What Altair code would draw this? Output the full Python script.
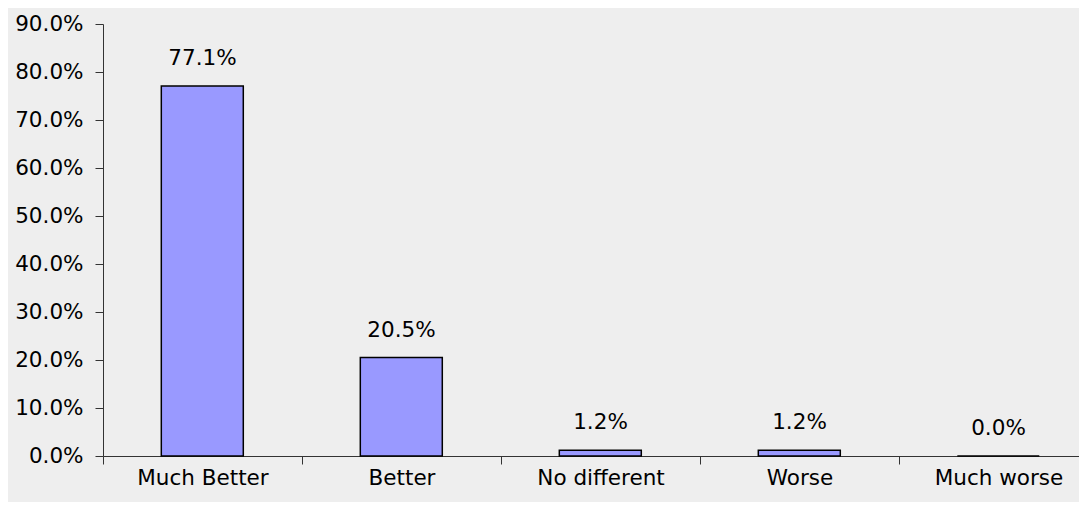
import altair as alt
import pandas as pd

categories = ["Much Better", "Better", "No different", "Worse", "Much worse"]
values = [0.771, 0.205, 0.012, 0.012, 0.0]
labels = ["77.1%", "20.5%", "1.2%", "1.2%", "0.0%"]

df = pd.DataFrame({"cat": categories, "val": values, "lab": labels,
                   "idx": list(range(len(categories)))})

FONT = "DejaVu Sans"
FS = 21.5
W = 976
STEP = 199  # pixels per category slot
n = len(categories)

names_js = "[" + ",".join("'" + c + "'" for c in categories) + "]"
tick_vals = [i * 0.5 for i in range(2 * n)]

x_axis = alt.Axis(
    values=tick_vals,
    labelExpr=f"datum.value % 1 == 0 ? '' : {names_js}[floor(datum.value)]",
    tickOpacity={"condition": {"test": "datum.value % 1 == 0", "value": 1}, "value": 0},
    labelAngle=0, labelFont=FONT, labelFontSize=FS, labelColor="black",
    labelOverlap=False, labelFlush=False,
    domainColor="#333333", tickColor="#333333", tickSize=8,
    labelPadding=3, grid=False, title=None)
x_scale = alt.Scale(domain=[0, W / STEP], nice=False, zero=False)

y_scale = alt.Scale(domain=[0, 0.9], nice=False)
y = alt.Y("val:Q", title=None, scale=y_scale,
          axis=alt.Axis(format=".1%", values=[i / 10 for i in range(10)],
                        labelFont=FONT, labelFontSize=FS, labelColor="black",
                        domainColor="#333333", tickColor="#333333", tickSize=8,
                        labelPadding=12, grid=False))

base = alt.Chart(df).transform_calculate(
    x0="datum.idx + 0.293", x1="datum.idx + 0.705", xc="datum.idx + 0.5")

bars = base.mark_bar(color="#9999ff", stroke="black", strokeWidth=1.5).encode(
    x=alt.X("x0:Q", scale=x_scale, axis=x_axis), x2="x1:Q", y=y, y2=alt.datum(0))
text = base.mark_text(font=FONT, fontSize=FS, color="black", baseline="bottom", dy=-16).encode(
    x=alt.X("xc:Q", scale=x_scale), y=alt.Y("val:Q", scale=y_scale), text="lab:N")

chart = (bars + text).properties(
    width=W, height=432,
    autosize=alt.AutoSizeParams(type="none"),
    padding={"left": 95, "top": 16, "right": 0, "bottom": 46},
    background="#eeeeee",
).configure_view(stroke=None)

chart.save("out.html", embed_options={"renderer": "svg", "actions": False})
